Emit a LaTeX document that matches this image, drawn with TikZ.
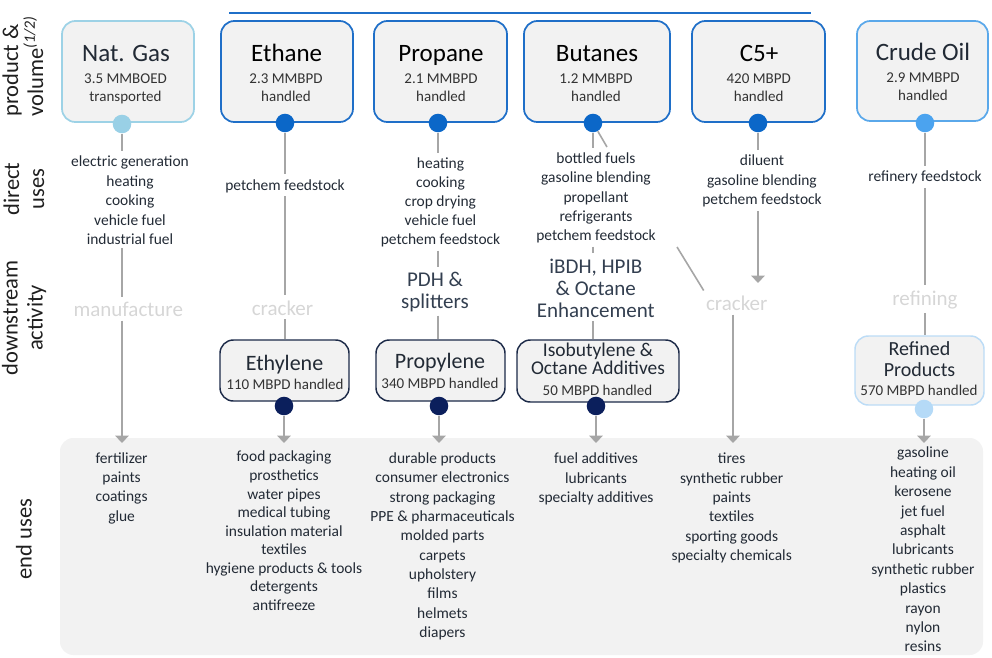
\documentclass[tikz,border=0pt]{standalone}
\usepackage{fontspec}
\setmainfont{Carlito}
\usetikzlibrary{arrows.meta,fit}
\definecolor{boxfill}{HTML}{F2F2F2}
\definecolor{lgray}{HTML}{A6A6A6}
\definecolor{palec}{HTML}{D6D6D6}
\definecolor{txt}{HTML}{222A35}
\definecolor{actc}{HTML}{333F50}
\definecolor{subc}{HTML}{333333}
\definecolor{ngB}{HTML}{9DD2E6}
\definecolor{ngD}{HTML}{99D0E6}
\definecolor{blB}{HTML}{1F6FC8}
\definecolor{blD}{HTML}{0B67C8}
\definecolor{crB}{HTML}{5AA8EA}
\definecolor{crD}{HTML}{4BA3EF}
\definecolor{rfB}{HTML}{BCDCF6}
\definecolor{rfD}{HTML}{B5DAF7}
\definecolor{nvB}{HTML}{1C2A48}
\definecolor{nvD}{HTML}{0B1F5C}
\newcommand\fBody[1]{\fontsize{11.6pt}{#1}\selectfont}
\newcommand\fTitle{\fontsize{18.75pt}{22pt}\selectfont}
\newcommand\fSub{\fontsize{11.25pt}{13.5pt}\selectfont}
\newcommand\fAct[1]{\fontsize{15.75pt}{#1}\selectfont}
\newcommand\fSide{\fontsize{16.9pt}{18.75pt}\selectfont}
\newcommand\fBoxT[2]{\fontsize{#1}{#2}\selectfont}
\newcommand\topln{\vrule height 0.8em depth 0pt width 0pt}
\begin{document}
\begin{tikzpicture}[x=0.75pt,y=-0.75pt,
  box/.style={draw, fill=boxfill, rounded corners=10pt, line width=1.3pt, inner sep=0pt},
  dbox/.style={box, draw=nvB, line width=1.1pt},
  dot/.style={circle, inner sep=0pt, minimum size=13.9pt},
  lbl/.style={align=center, inner sep=0pt, text=txt, anchor=north},
  dsgrey/.style={lbl, text=palec, font={\fAct{16pt}}},
  act/.style={lbl, text=actc},
  ttl/.style={font=\fTitle, anchor=base, inner sep=0pt},
  sub/.style={font=\fSub, text=subc, align=center, anchor=north, inner sep=0pt},
  subb/.style={font=\fSub, text=subc, anchor=base, inner sep=0pt},
  side/.style={font=\fSide, text=black!88, inner sep=0pt, align=center, rotate=90},
  conn/.style={draw=lgray, line width=1.2pt},
  arr/.style={conn, -{Triangle[width=10pt,length=5.5pt]}},
  ga/.style={shorten >=2.5pt},
  gb/.style={shorten <=2.5pt},
]
\useasboundingbox (0,0) rectangle (992,657);

% end uses area
\node[fill=boxfill, rounded corners=10pt, inner sep=0pt, fit={(60,438) (983,655)}] (area) {};

% top rule
\coordinate (tl1) at (229,13);
\coordinate (tl2) at (811,13);
\draw[blB, line width=0.9pt] (tl1) -- (tl2);

% side labels
\node[side, anchor=west, align=left] (sPV) at (23,117) {product \&\\volume\textsuperscript{\textit{(1/2)}}};
\node[side] (sDU) at (24,189) {direct\\uses};
\node[side] (sDA) at (24,318) {downstream\\activity};
\node[side] (sEU) at (24,539) {end uses};

% product boxes
\node[box, draw=ngB, fit={(62,21) (194,122)}] (bNG) {};
\node[box, draw=blB, fit={(221,21) (353,122)}] (bET) {};
\node[box, draw=blB, fit={(374,21) (507,122)}] (bPR) {};
\node[box, draw=blB, fit={(524,21) (670,122)}] (bBU) {};
\node[box, draw=blB, fit={(692,21) (825,122)}] (bC5) {};
\node[box, draw=crB, fit={(857,21) (988,121)}] (bCR) {};

\node[ttl, text=txt] (tNG) at (126,61.5) {Nat. Gas};
\node[ttl, text=black] (tET) at (286.7,61.5) {Ethane};
\node[ttl, text=black] (tPR) at (441,61.5) {Propane};
\node[ttl, text=black] (tBU) at (597,61.5) {Butanes};
\node[ttl, text=black] (tC5) at (759,61.5) {C5+};
\node[ttl, text=txt] (tCR) at (923,60) {Crude Oil};

\node[sub] (sNG) at (125.5,71) {\topln 3.5 MMBOED\\transported};
\node[sub] (sET) at (286,71) {\topln 2.3 MMBPD\\handled};
\node[sub] (sPR) at (441,71) {\topln 2.1 MMBPD\\handled};
\node[sub] (sBU) at (596,71) {\topln 1.2 MMBPD\\handled};
\node[sub] (sC5) at (758.7,71) {\topln 420 MBPD\\handled};
\node[sub] (sCR) at (923,70) {\topln 2.9 MMBPD\\handled};

\node[dot, fill=ngD] (dNG) at (122,124) {};
\node[dot, fill=blD] (dET) at (285,123) {};
\node[dot, fill=blD] (dPR) at (438,123) {};
\node[dot, fill=blD] (dBU) at (593,123) {};
\node[dot, fill=blD] (dC5) at (758,123) {};
\node[dot, fill=crD] (dCR) at (925,123) {};

% direct uses
\node[lbl, font={\fBody{14.6pt}}] (duNG) at (130,154.1) {\topln electric generation\\heating\\cooking\\vehicle fuel\\industrial fuel};
\node[lbl, font={\fBody{14.6pt}}] (duET) at (285,177.6) {\topln petchem feedstock};
\node[lbl, font={\fBody{14.25pt}}] (duPR) at (440.5,155.9) {\topln heating\\cooking\\crop drying\\vehicle fuel\\petchem feedstock};
\node[lbl, font={\fBody{14.45pt}}] (duBU) at (596,150.9) {\topln bottled fuels\\gasoline blending\\propellant\\refrigerants\\petchem feedstock};
\node[lbl, font={\fBody{14.6pt}}] (duC5) at (762,153.3) {\topln diluent\\gasoline blending\\petchem feedstock};
\node[lbl, font={\fBody{14.6pt}}] (duCR) at (925,169.3) {\topln refinery feedstock};

% downstream activity
\node[dsgrey] (dsNG) at (128.3,299.9) {\topln manufacture};
\node[dsgrey] (dsET) at (282.5,298.2) {\topln cracker};
\node[act, font={\fAct{16.2pt}}] (dsPR) at (435,269.9) {\topln PDH \&\\splitters};
\node[act, font={\fAct{16.3pt}}] (dsBU) at (595.8,256.5) {\topln iBDH, HPIB\\\& Octane\\Enhancement};
\node[dsgrey] (dsC5) at (736.7,293.9) {\topln cracker};
\node[dsgrey] (dsCR) at (925,288.7) {\topln refining};

% downstream boxes
\node[dbox, fit={(220,340) (349,401)}] (bEY) {};
\node[dbox, fit={(376,340) (505,401)}] (bPY) {};
\node[dbox, fit={(517,340) (679,402)}] (bIB) {};
\node[box, draw=rfB, line width=1.1pt, fit={(855,336) (984,405)}] (bRP) {};

\node[anchor=base, inner sep=0pt, text=txt, font={\fBoxT{16.5pt}{18pt}}] (tEY) at (284.5,370) {Ethylene};
\node[subb] (sEY) at (285,389.3) {110 MBPD handled};
\node[anchor=base, inner sep=0pt, text=txt, font={\fBoxT{16.5pt}{18pt}}] (tPY) at (440,368.3) {Propylene};
\node[subb] (sPY) at (440,388.3) {340 MBPD handled};
\node[lbl, font={\fBoxT{14.6pt}{13.6pt}}] (tIB) at (598,340.4) {\topln Isobutylene \&\\Octane Additives};
\node[subb] (sIB) at (597.5,395) {50 MBPD handled};
\node[lbl, font={\fBoxT{15pt}{15.75pt}}] (tRP) at (919.5,339) {\topln Refined\\Products};
\node[subb] (sRP) at (919,395) {570 MBPD handled};

\node[dot, fill=nvD] (dEY) at (284,406) {};
\node[dot, fill=nvD] (dPY) at (439,406) {};
\node[dot, fill=nvD] (dIB) at (596,406) {};
\node[dot, fill=rfD] (dRP) at (924,409) {};

% end uses
\node[lbl, font={\fBody{14.5pt}}] (euNG) at (121.6,450.6) {\topln fertilizer\\paints\\coatings\\glue};
\node[lbl, font={\fBody{13.9pt}}] (euET) at (284,449.3) {\topln food packaging\\prosthetics\\water pipes\\medical tubing\\insulation material\\textiles\\hygiene products \& tools\\detergents\\antifreeze};
\node[lbl, font={\fBody{14.5pt}}] (euPR) at (442.5,450.9) {\topln durable products\\consumer electronics\\strong packaging\\PPE \& pharmaceuticals\\molded parts\\carpets\\upholstery\\films\\helmets\\diapers};
\node[lbl, font={\fBody{14.6pt}}] (euBU) at (596,450.9) {\topln fuel additives\\lubricants\\specialty additives};
\node[lbl, font={\fBody{14.6pt}}] (euC5) at (731.7,450.9) {\topln tires\\synthetic rubber\\paints\\textiles\\sporting goods\\specialty chemicals};
\node[lbl, font={\fBody{14.55pt}}] (euCR) at (923,445.3) {\topln gasoline\\heating oil\\kerosene\\jet fuel\\asphalt\\lubricants\\synthetic rubber\\plastics\\rayon\\nylon\\resins};

% arrow tips and bends
\coordinate (aNG) at (122,443);
\coordinate (aET) at (284,443);
\coordinate (aPR) at (439,443);
\coordinate (aBU) at (596,443);
\coordinate (aC5) at (733,443);
\coordinate (aCR) at (924,443);
\coordinate (aC5t) at (758,283);
\coordinate (dg1) at (607,147);
\coordinate (dg2) at (677,247);

% connectors: Nat. Gas
\draw[conn, ga] (dNG) -- (duNG.north -| dNG);
\draw[conn, ga, gb] (duNG.south -| dNG) -- (dsNG.north -| dNG);
\draw[arr, gb] (dsNG.south -| dNG) -- (aNG);
% Ethane
\draw[conn, ga] (dET) -- (duET.north -| dET);
\draw[conn, ga, gb] (duET.south -| dET) -- (dsET.north -| dET);
\draw[conn, gb] (dsET.south -| dET) -- (bEY.north -| dET);
\draw[arr] (dEY) -- (aET);
% Propane
\draw[conn, ga] (dPR) -- (duPR.north -| dPR);
\draw[conn, ga, gb] (duPR.south -| dPR) -- (dsPR.north -| dPR);
\draw[conn, gb] (dsPR.south -| dPR) -- (bPY.north -| dPR);
\draw[arr] (dPY) -- (aPR);
% Butanes
\draw[conn, ga] (dBU) -- (duBU.north -| dBU);
\draw[conn, ga, gb] (duBU.south -| dBU) -- (dsBU.north -| dBU);
\draw[conn, gb] (dsBU.south -| dBU) -- (bIB.north -| dBU);
\draw[arr] (dIB) -- (aBU);
\draw[conn] (dBU) -- (dg1);
\draw[conn, shorten >=3pt] (dg2) -- (dsC5.north west);
% C5+
\draw[conn, ga] (dC5) -- (duC5.north -| dC5);
\draw[arr, gb] (duC5.south -| dC5) -- (aC5t);
\draw[arr, gb] (dsC5.south -| aC5) -- (aC5);
% Crude
\draw[conn, ga] (dCR) -- (duCR.north -| dCR);
\draw[conn, ga, gb] (duCR.south -| dCR) -- (dsCR.north -| dCR);
\draw[conn, gb] (dsCR.south -| dCR) -- (bRP.north -| dCR);
\draw[arr] (dRP) -- (aCR);
\end{tikzpicture}
\end{document}
